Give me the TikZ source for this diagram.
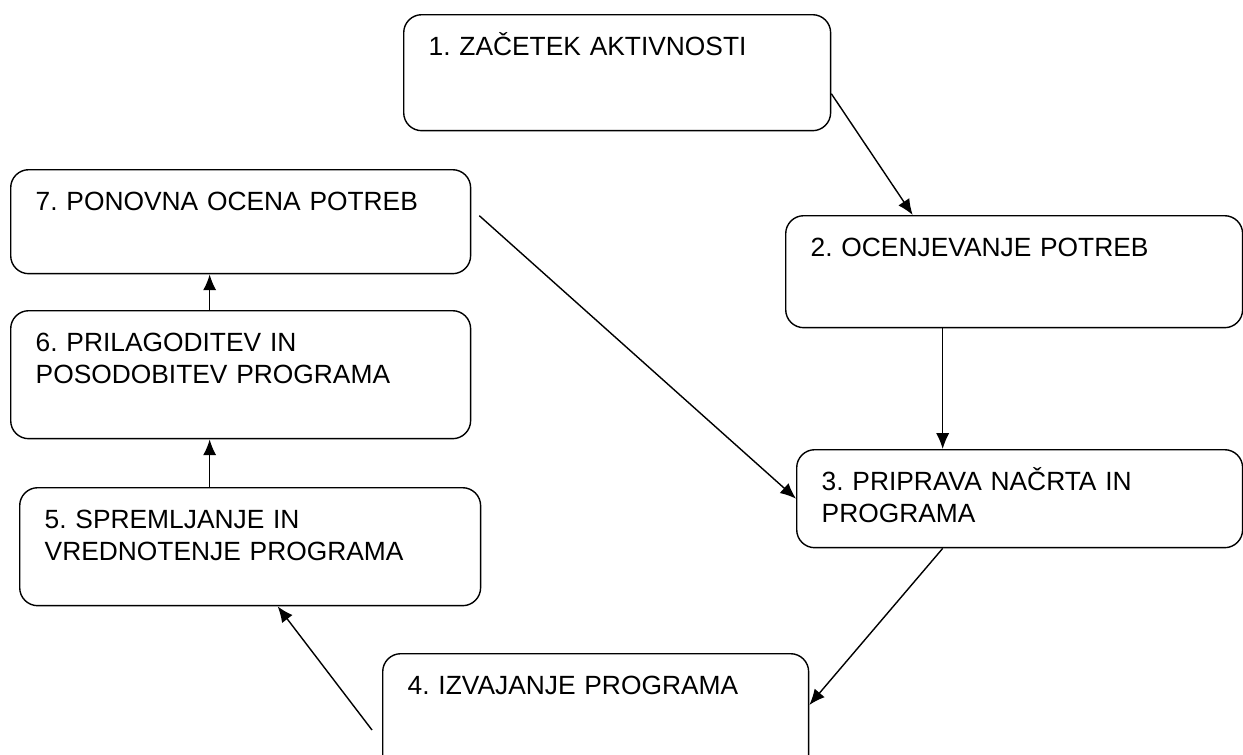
\documentclass[tikz,border=0pt]{standalone}
\usepackage{fontspec}
\setmainfont{Liberation Sans}
\usepackage{tikz}
\usetikzlibrary{arrows.meta}
\tikzset{>={Latex[length=9pt,width=7.5pt]}}
\tikzset{
  stepbox/.style 2 args={draw, thick, rounded corners=0.36cm, anchor=north west,
    inner xsep=0.5cm, inner ysep=0pt, align=left,
    text width=#1, text height=0.82cm, text depth=#2,
    font=\fontsize{15}{18.2}\selectfont\frenchspacing}
}

\begin{document}
\begin{tikzpicture}[x=0.02cm, y=-0.02cm]
  \useasboundingbox (0,0) rectangle (1243,754);

  % Draw the boxes of the cycle
  \node[stepbox={7.54cm}{1.50cm}] (b1) at (403,14)  {1. ZAČETEK AKTIVNOSTI};
  \node[stepbox={8.14cm}{1.42cm}] (b2) at (785,215) {2. OCENJEVANJE POTREB};
  \node[stepbox={7.92cm}{1.14cm}] (b3) at (796,449) {3. PRIPRAVA NAČRTA IN\\PROGRAMA};
  \node[stepbox={7.52cm}{1.58cm}] (b4) at (382,653) {4. IZVAJANJE PROGRAMA};
  \node[stepbox={8.22cm}{1.54cm}] (b5) at (19,487)  {5. SPREMLJANJE IN\\VREDNOTENJE PROGRAMA};
  \node[stepbox={8.20cm}{1.74cm}] (b6) at (10,310)  {6. PRILAGODITEV IN\\POSODOBITEV PROGRAMA};
  \node[stepbox={8.20cm}{1.26cm}] (b7) at (10,169)  {7. PONOVNA OCENA POTREB};

  % Arrows between the steps
  \draw[->, thick] ([yshift=-0.42cm]b1.east) -- ([xshift=-2.03cm]b2.north);
  \draw[->, thick] ([xshift=-1.43cm]b2.south) -- ([xshift=-1.43cm]b2.south |- b3.north);
  \draw[->, thick] ([xshift=-1.54cm]b3.south) -- ([yshift=-1.04cm]b4.north east);
  \draw[->, thick] ([xshift=-0.2cm, yshift=-1.54cm]b4.north west) -- ([xshift=0.55cm]b5.south);
  \draw[->, thick] ([xshift=-0.81cm]b5.north) -- ([xshift=-0.81cm]b5.north |- b6.south);
  \draw[->, thick] ([xshift=-0.62cm]b6.north) -- ([xshift=-0.62cm]b6.north |- b7.south);
  \draw[->, thick] ([xshift=0.16cm, yshift=0.12cm]b7.east) -- (b3.west);
\end{tikzpicture}
\end{document}
